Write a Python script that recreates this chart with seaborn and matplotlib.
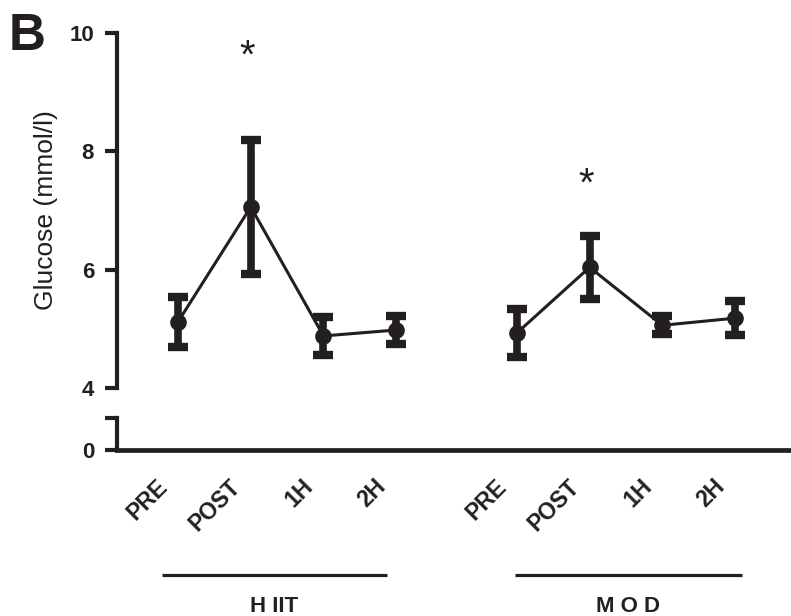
import matplotlib
matplotlib.use('Agg')
import matplotlib.pyplot as plt
import matplotlib.transforms as mtransforms
import pandas as pd
import seaborn as sns

# values (mean +/- error)
groups = ['HIIT', 'MOD']
group_labels = ['H IIT', 'M O D']
times = ['PRE', 'POST', '1H', '2H']
hiit_mean = [5.12, 7.06, 4.88, 4.98]
hiit_err = [0.42, 1.13, 0.32, 0.23]
mod_mean = [4.93, 6.04, 5.06, 5.18]
mod_err = [0.41, 0.53, 0.15, 0.29]
star_time = 'POST'
star_y = [9.6, 7.43]

# layout
gap = 1.66
underline_pad = [(-0.22, -0.13), (-0.02, 0.09)]
ink = '#231f20'

rows = []
for g, (means, errs) in enumerate([(hiit_mean, hiit_err), (mod_mean, mod_err)]):
    for i, t in enumerate(times):
        rows.append({'group': groups[g], 'time': t,
                     'pos': i + g * (len(times) - 1 + gap),
                     'mean': means[i], 'err': errs[i]})
df = pd.DataFrame(rows)

sns.set_style('ticks')
plt.rcParams['font.family'] = ['Liberation Sans', 'DejaVu Sans']

fig = plt.figure(figsize=(7.91, 6.16), dpi=100)
ax = fig.add_axes([117 / 791, 1 - 388 / 616, 1 - 117 / 791, 355 / 616])
ax_lo = fig.add_axes([117 / 791, 1 - 450 / 616, 1 - 117 / 791, 32 / 616])
xlim = (-0.84, 8.43)

# upper panel: data
sns.lineplot(data=df, x='pos', y='mean', hue='group', palette=[ink, ink],
             marker='o', markersize=12, markeredgewidth=0, linewidth=2.2,
             legend=False, ax=ax, zorder=3)
for g in groups:
    sub = df[df['group'] == g]
    ax.errorbar(sub['pos'], sub['mean'], yerr=sub['err'], fmt='none',
                ecolor=ink, elinewidth=5.5, capsize=7.5, capthick=6, zorder=2)
    star_pos = sub.loc[sub['time'] == star_time, 'pos'].iloc[0]
    ax.text(star_pos - 0.05, star_y[groups.index(g)], '*', ha='center',
            va='center', fontsize=29, color=ink)

ax.set_xlim(*xlim)
ax.set_ylim(4, 10)
ax.set_yticks([4, 6, 8, 10])
ax.set_yticks([4], minor=True)
for s in ['top', 'right', 'bottom']:
    ax.spines[s].set_visible(False)
ax.spines['left'].set_linewidth(3)
ax.spines['left'].set_color(ink)
ax.tick_params(axis='y', which='major', length=8.5, width=3, color=ink,
               labelsize=16, pad=8, labelcolor=ink)
ax.tick_params(axis='y', which='minor', direction='in', length=8.5, width=3,
               color=ink)
for lab in ax.get_yticklabels():
    lab.set_fontweight('bold')
ax.set_xticks([])
ax.set_xlabel('')
ax.set_ylabel('Glucose (mmol/l)', fontsize=19, color=ink, labelpad=8)

# lower panel: the 0 stub and the x axis
ax_lo.set_xlim(*xlim)
ax_lo.set_ylim(0, 0.54)
ax_lo.set_yticks([0, 0.54])
ax_lo.set_yticklabels(['0', ''])
ax_lo.set_yticks([0.54], minor=True)
ax_lo.patch.set_alpha(0)
for s in ['top', 'right']:
    ax_lo.spines[s].set_visible(False)
ax_lo.spines['left'].set_linewidth(3)
ax_lo.spines['bottom'].set_linewidth(3.4)
ax_lo.spines['left'].set_color(ink)
ax_lo.spines['bottom'].set_color(ink)
ax_lo.tick_params(axis='y', which='major', length=8.5, width=3, color=ink,
                  labelsize=16, pad=8, labelcolor=ink)
ax_lo.tick_params(axis='y', which='minor', direction='in', length=8.5,
                  width=3, color=ink)
for lab in ax_lo.get_yticklabels():
    lab.set_fontweight('bold')

ax_lo.set_xticks(df['pos'])
ax_lo.set_xticklabels(df['time'], rotation=45, ha='right',
                      rotation_mode='anchor', fontweight='bold', fontsize=16.5,
                      color=ink)
ax_lo.tick_params(axis='x', length=0, pad=18)
shift = mtransforms.ScaledTranslation(-0.22, 0, fig.dpi_scale_trans)
for lab in ax_lo.get_xticklabels():
    lab.set_transform(lab.get_transform() + shift)
ax_lo.set_xlabel('')
ax_lo.set_ylabel('')

# group underlines and names
trans = mtransforms.blended_transform_factory(ax_lo.transData, fig.transFigure)
for g, name in enumerate(group_labels):
    sub = df[df['group'] == groups[g]]
    x0 = sub['pos'].min() + underline_pad[g][0]
    x1 = sub['pos'].max() + underline_pad[g][1]
    ax_lo.plot([x0, x1], [1 - 575 / 616] * 2, color=ink, lw=2.3,
               transform=trans, clip_on=False, solid_capstyle='butt')
    ax_lo.text((x0 + x1) / 2, 1 - 612 / 616, name, transform=trans,
               ha='center', va='baseline', fontsize=16, fontweight='bold',
               color=ink)

fig.text(9 / 791, 1 - 50 / 616, 'B', fontsize=37, fontweight='bold',
         color=ink, va='baseline', ha='left')

fig.savefig('out.png', dpi=100)
